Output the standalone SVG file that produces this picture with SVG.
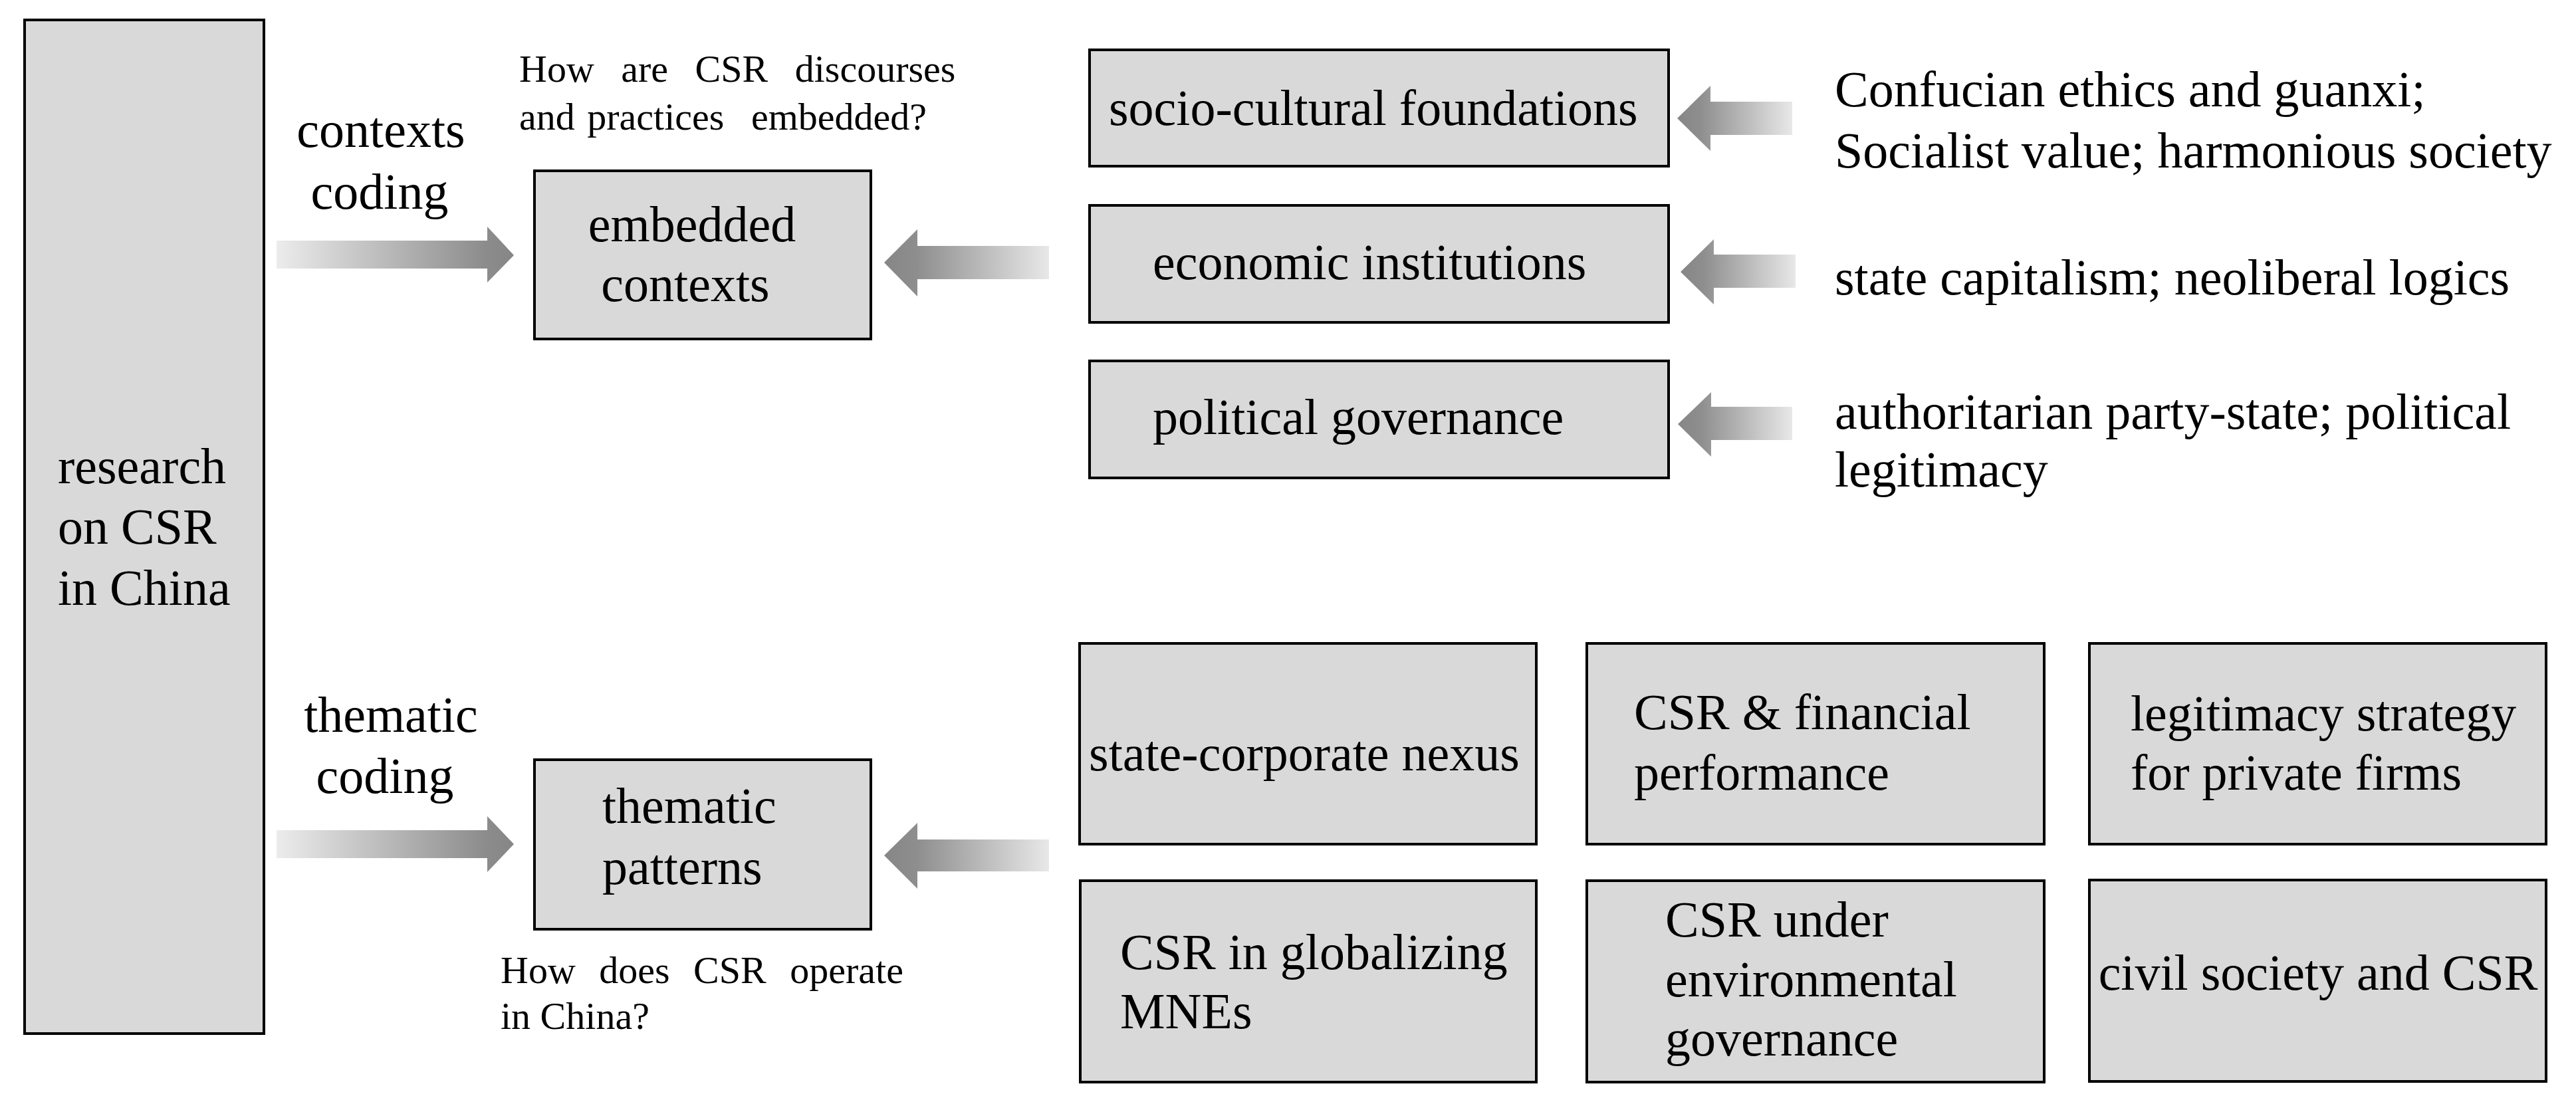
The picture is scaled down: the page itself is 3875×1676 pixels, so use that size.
<svg xmlns="http://www.w3.org/2000/svg" width="3875" height="1676" viewBox="0 0 3875 1676">
<style>
.box{fill:#d9d9d9;stroke:#000;stroke-width:4}
.t{font-family:"Liberation Serif","Times New Roman",serif;font-size:76px;fill:#000}
.q{font-family:"Liberation Serif","Times New Roman",serif;font-size:58px;fill:#000}
.m{text-anchor:middle}
</style>
<defs>
<linearGradient id="gR" x1="0" y1="0" x2="1" y2="0">
<stop offset="0" stop-color="#ececec"/>
<stop offset="0.88" stop-color="#8c8c8c"/>
<stop offset="1" stop-color="#868686"/>
</linearGradient>
<linearGradient id="gL" x1="0" y1="0" x2="1" y2="0">
<stop offset="0" stop-color="#868686"/>
<stop offset="0.2" stop-color="#8e8e8e"/>
<stop offset="1" stop-color="#e8e8e8"/>
</linearGradient>
</defs>
<rect width="3875" height="1676" fill="#fff"/>

<g id="research">
<rect class="box" x="37" y="30" width="360" height="1525"/>
<text class="t" x="87" y="727">research</text>
<text class="t" x="87" y="818">on CSR</text>
<text class="t" x="87" y="910">in China</text>
</g>

<g id="label-contexts-coding">
<text class="t m" x="573" y="221">contexts</text>
<text class="t m" x="571" y="314">coding</text>
</g>
<g id="label-thematic-coding">
<text class="t m" x="588" y="1101">thematic</text>
<text class="t m" x="579" y="1193">coding</text>
</g>

<g id="question-embedded">
<text class="q" x="781" y="123" word-spacing="26">How are CSR discourses</text>
<text class="q" x="781" y="195" word-spacing="4">and practices</text>
<text class="q" x="1130" y="195">embedded?</text>
</g>
<g id="question-operate">
<text class="q" x="753" y="1479" word-spacing="21">How does CSR operate</text>
<text class="q" x="753" y="1548">in China?</text>
</g>

<g id="embedded-contexts">
<rect class="box" x="804" y="257" width="506" height="253"/>
<text class="t m" x="1041" y="363">embedded</text>
<text class="t m" x="1031" y="453">contexts</text>
</g>
<g id="thematic-patterns">
<rect class="box" x="804" y="1143" width="506" height="255"/>
<text class="t" x="906" y="1238">thematic</text>
<text class="t" x="906" y="1330">patterns</text>
</g>

<g id="socio-cultural">
<rect class="box" x="1639" y="75" width="871" height="175"/>
<text class="t" x="1668" y="188">socio-cultural foundations</text>
</g>
<g id="economic">
<rect class="box" x="1639" y="309" width="871" height="176"/>
<text class="t" x="1734" y="420">economic institutions</text>
</g>
<g id="political">
<rect class="box" x="1639" y="543" width="871" height="176"/>
<text class="t" x="1734" y="653">political governance</text>
</g>

<g id="src-socio">
<text class="t" x="2760" y="160">Confucian ethics and guanxi;</text>
<text class="t" x="2760" y="252">Socialist value; harmonious society</text>
</g>
<g id="src-economic">
<text class="t" x="2760" y="443">state capitalism; neoliberal logics</text>
</g>
<g id="src-political">
<text class="t" x="2760" y="645">authoritarian party-state; political</text>
<text class="t" x="2760" y="732">legitimacy</text>
</g>

<g id="state-corporate">
<rect class="box" x="1624" y="968" width="687" height="302"/>
<text class="t m" x="1962" y="1159">state-corporate nexus</text>
</g>
<g id="csr-financial">
<rect class="box" x="2387" y="968" width="688" height="302"/>
<text class="t" x="2458" y="1097">CSR &amp; financial</text>
<text class="t" x="2458" y="1188">performance</text>
</g>
<g id="legitimacy">
<rect class="box" x="3143" y="968" width="687" height="302"/>
<text class="t" x="3205" y="1099">legitimacy strategy</text>
<text class="t" x="3205" y="1188">for private firms</text>
</g>
<g id="csr-mnes">
<rect class="box" x="1625" y="1325" width="686" height="303"/>
<text class="t" x="1685" y="1458">CSR in globalizing</text>
<text class="t" x="1685" y="1547">MNEs</text>
</g>
<g id="csr-environmental">
<rect class="box" x="2387" y="1325" width="688" height="303"/>
<text class="t" x="2505" y="1409">CSR under</text>
<text class="t" x="2505" y="1499">environmental</text>
<text class="t" x="2505" y="1588">governance</text>
</g>
<g id="civil-society">
<rect class="box" x="3143" y="1324" width="687" height="303"/>
<text class="t m" x="3487" y="1489">civil society and CSR</text>
</g>

<g id="connectors">
<polygon fill="url(#gR)" points="416,362 733,362 733,341 773,384 733,425 733,404 416,404"/>
<polygon fill="url(#gR)" points="416,1249 733,1249 733,1228 773,1270 733,1312 733,1291 416,1291"/>
<polygon fill="url(#gL)" points="1578,370 1380,370 1380,345 1330,395 1380,446 1380,420 1578,420"/>
<polygon fill="url(#gL)" points="1578,1263 1380,1263 1380,1238 1330,1287 1380,1337 1380,1311 1578,1311"/>
<polygon fill="url(#gL)" points="2696,153 2573,153 2573,129 2523,178 2573,227 2573,203 2696,203"/>
<polygon fill="url(#gL)" points="2701,383 2578,383 2578,360 2528,409 2578,458 2578,433 2701,433"/>
<polygon fill="url(#gL)" points="2696,612 2574,612 2574,590 2524,638 2574,687 2574,662 2696,662"/>
</g>
</svg>
